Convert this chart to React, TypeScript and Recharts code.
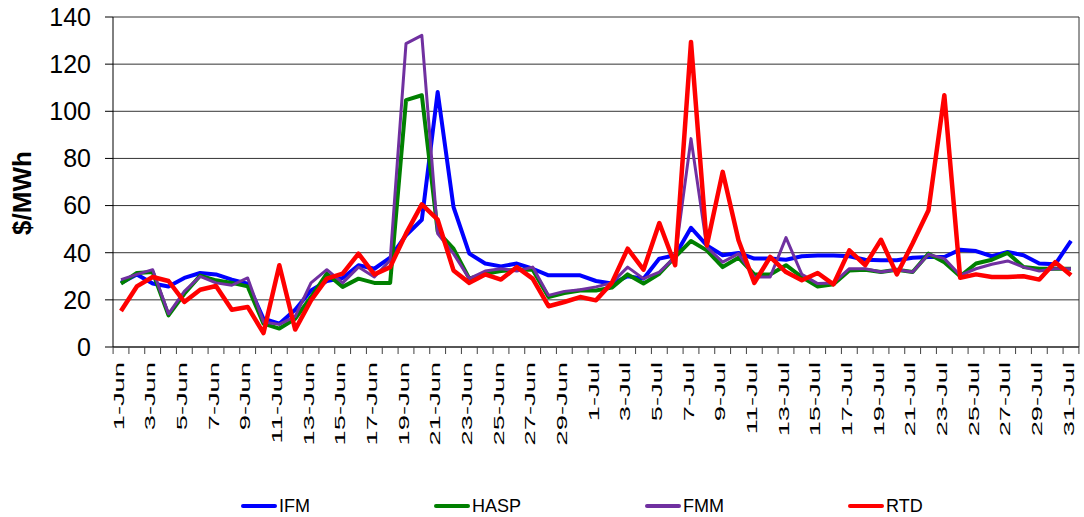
import { LineChart, Line, XAxis, YAxis, CartesianGrid, Legend } from 'recharts'

const days = [
  '1-Jun', '2-Jun', '3-Jun', '4-Jun', '5-Jun', '6-Jun', '7-Jun', '8-Jun', '9-Jun', '10-Jun',
  '11-Jun', '12-Jun', '13-Jun', '14-Jun', '15-Jun', '16-Jun', '17-Jun', '18-Jun', '19-Jun', '20-Jun',
  '21-Jun', '22-Jun', '23-Jun', '24-Jun', '25-Jun', '26-Jun', '27-Jun', '28-Jun', '29-Jun', '30-Jun',
  '1-Jul', '2-Jul', '3-Jul', '4-Jul', '5-Jul', '6-Jul', '7-Jul', '8-Jul', '9-Jul', '10-Jul',
  '11-Jul', '12-Jul', '13-Jul', '14-Jul', '15-Jul', '16-Jul', '17-Jul', '18-Jul', '19-Jul', '20-Jul',
  '21-Jul', '22-Jul', '23-Jul', '24-Jul', '25-Jul', '26-Jul', '27-Jul', '28-Jul', '29-Jul', '30-Jul',
  '31-Jul',
]

const ifm = [
  27.2, 30.8, 26.9, 25.7, 29.3, 31.4, 30.8, 28.6, 26.9, 12,
  9.9, 15.8, 24, 28, 29.3, 34.7, 33.2, 37.9, 47.4, 54,
  108.2, 59.4, 39.6, 35.4, 34.2, 35.4, 33.2, 30.4, 30.4, 30.4,
  28, 26.9, 30, 29, 37.5, 38.9, 50.6, 43.1, 38.9, 39.9,
  37.5, 37.5, 37, 38.5, 38.8, 38.8, 38.5, 37, 36.8, 36.8,
  37.9, 38.2, 38.2, 41.3, 40.7, 38.5, 40.3, 38.9, 35.4, 35.1,
  45,
]

const hasp = [
  26.9, 31.4, 31.8, 13.4, 22.6, 30.3, 28.3, 27.2, 25.7, 9.9,
  7.8, 12, 21.2, 31.1, 25.5, 29, 27.2, 27.2, 104.7, 106.8,
  49, 41.7, 29, 31.1, 32.2, 32.8, 32.8, 21.2, 22.9, 24,
  24, 25.2, 30.8, 26.9, 31.1, 38.2, 45, 41, 33.9, 37.9,
  30.8, 30.8, 34.7, 29.7, 25.7, 26.6, 32.5, 32.8, 31.8, 32.8,
  31.8, 39.6, 36, 30, 35.4, 37, 39.9, 33.9, 33.2, 33.2,
  33.2,
]

const fmm = [
  28.6, 30.8, 32.8, 14.1, 23.6, 30, 27.2, 26.2, 29.3, 10.6,
  9.6, 13, 27.2, 32.8, 27.2, 33.9, 29.7, 36.8, 128.7, 132.2,
  48.1, 39.6, 29, 32.2, 33.2, 32.2, 33.9, 21.9, 23.6, 24.3,
  25.5, 27.2, 33.9, 29, 31.8, 38.2, 88.4, 42.4, 36, 39.6,
  29.7, 29.7, 46.4, 30.8, 26.9, 27.2, 33.2, 33.2, 31.8, 32.8,
  31.8, 39.3, 37.5, 30.4, 33.2, 35.1, 36.5, 33.9, 32.2, 33.2,
  33.2,
]

const rtd = [
  15.3, 25.7, 29.7, 28, 19.1, 24.3, 25.9, 15.8, 17, 5.9,
  34.7, 7.4, 19.8, 29, 31.1, 39.6, 30.8, 33.9, 48.1, 60.5,
  54, 32.5, 27.2, 30.8, 28.6, 33.9, 29, 17.3, 19.1, 21.2,
  19.8, 27.2, 41.7, 32.8, 52.6, 34.7, 129.4, 43.1, 74.3, 45.3,
  27.2, 38.2, 31.8, 28.3, 31.4, 26.6, 41, 34.7, 45.5, 30.8,
  44, 58, 106.8, 29.4, 30.8, 29.7, 29.7, 30, 28.6, 36,
  30.4,
]

const yTicks = [0, 20, 40, 60, 80, 100, 120, 140]

const series = [
  { key: 'IFM', color: '#0000ff', width: 4 },
  { key: 'HASP', color: '#008000', width: 4 },
  { key: 'FMM', color: '#7030a0', width: 3 },
  { key: 'RTD', color: '#ff0000', width: 4.5 },
]

const data = days.map((day, i) => ({
  day,
  IFM: ifm[i],
  HASP: hasp[i],
  FMM: fmm[i],
  RTD: rtd[i],
}))

const FONT = '"Liberation Sans", Arial, sans-serif'
const HALF_BAND = 7.92

function XTick(props: any) {
  const { x, y, payload } = props
  return (
    <g>
      <line x1={x - HALF_BAND} x2={x - HALF_BAND} y1={y} y2={y + 7} stroke="#404040" />
      <line x1={x + HALF_BAND} x2={x + HALF_BAND} y1={y} y2={y + 7} stroke="#404040" />
      <text
        transform={`translate(${x + 2.5}, ${y + 15}) scale(1, 1.95) rotate(-90)`}
        textAnchor="end"
        fontSize={14}
        fontFamily={FONT}
        fill="#000"
      >
        {payload.value}
      </text>
    </g>
  )
}

function YTitle() {
  return (
    <text
      transform="translate(31, 193) rotate(-90)"
      textAnchor="middle"
      fontSize={26}
      fontWeight="bold"
      fontFamily={FONT}
      fill="#000"
    >
      $/MWh
    </text>
  )
}

function LegendBox() {
  return (
    <div style={{ display: 'flex', paddingLeft: 241, paddingTop: 9, gap: 124, fontFamily: FONT }}>
      {series.map(s => (
        <div key={s.key} style={{ display: 'flex', alignItems: 'center', gap: 2, lineHeight: '20px' }}>
          <span style={{ display: 'inline-block', width: 36, height: 4, borderRadius: 2, background: s.color }} />
          <span style={{ fontSize: 18, color: '#000' }}>{s.key}</span>
        </div>
      ))}
    </div>
  )
}

export default function App() {
  return (
    <div style={{ position: 'absolute', left: 0, top: 0, width: 1084, height: 517, background: '#fff' }}>
      <LineChart width={1084} height={517} data={data} margin={{ top: 17, right: 5, left: 0, bottom: 0 }}>
        <CartesianGrid stroke="#333" verticalPoints={[1079]} />
        <XAxis
          dataKey="day"
          interval={1}
          padding={{ left: 8, right: 8 }}
          height={140}
          tickLine={false}
          tickSize={0}
          tickMargin={0}
          axisLine={{ stroke: '#404040', strokeWidth: 1.5 }}
          tick={(p: any) => <XTick {...p} />}
        />
        <YAxis
          width={113}
          domain={[0, 140]}
          ticks={yTicks}
          interval={0}
          tickSize={8}
          tickMargin={14}
          axisLine={{ stroke: '#000' }}
          tickLine={{ stroke: '#000' }}
          tick={{ fontSize: 25, fill: '#000', fontFamily: FONT }}
          label={() => <YTitle />}
        />
        <Legend
          verticalAlign="bottom"
          content={() => <LegendBox />}
          wrapperStyle={{ left: 0, top: 487, width: 1084, height: 30 }}
        />
        {series.map(s => (
          <Line
            key={s.key}
            type="linear"
            dataKey={s.key}
            stroke={s.color}
            strokeWidth={s.width}
            strokeLinejoin="round"
            dot={false}
            activeDot={false}
            isAnimationActive={false}
          />
        ))}
      </LineChart>
    </div>
  )
}
